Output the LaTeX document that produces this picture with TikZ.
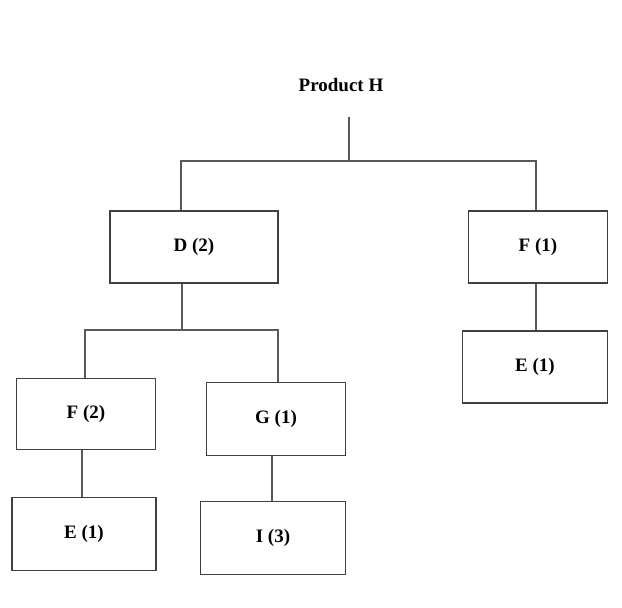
\documentclass[tikz,border=0pt]{standalone}
\usepackage{fontspec}
\setmainfont{Liberation Serif}
\begin{document}
\begin{tikzpicture}[x=1pt,y=-1pt,
  bx/.style={draw=black!75,line width=1.3pt,fill=white,inner sep=0pt,font=\bfseries\fontsize{19}{21}\selectfont},
  ln/.style={draw=black!65,line width=1.2pt}]
\useasboundingbox (0,0) rectangle (622,608);
\node[font=\bfseries\fontsize{19}{21}\selectfont] (H) at (341,85) {Product H};
\node[bx,minimum width=168pt,minimum height=72pt] (D) at (194,247) {D (2)};
\node[bx,minimum width=139pt,minimum height=72pt] (F1) at (538,247) {F (1)};
\node[bx,minimum width=145pt,minimum height=72pt] (E1) at (535,367) {E (1)};
\node[bx,minimum width=139pt,minimum height=71pt] (F2) at (86,414) {F (2)};
\node[bx,minimum width=139pt,minimum height=73pt] (G) at (276,419) {G (1)};
\node[bx,minimum width=144pt,minimum height=73pt] (E2) at (84,534) {E (1)};
\node[bx,minimum width=145pt,minimum height=73pt] (I) at (273,538) {I (3)};
\coordinate (t) at (349,117);
\draw[ln] (t) -- (349,161);
\draw[ln] (D.north -| 181,0) |- (349,161) -| (F1.north -| 536,0);
\draw[ln] (D.south -| 182,0) -- (182,330);
\draw[ln] (F2.north -| 85,0) |- (182,330) -| (G.north -| 278,0);
\draw[ln] (F1.south -| 536,0) -- (E1.north -| 536,0);
\draw[ln] (F2.south -| 82,0) -- (E2.north -| 82,0);
\draw[ln] (G.south -| 272,0) -- (I.north -| 272,0);
\end{tikzpicture}
\end{document}
